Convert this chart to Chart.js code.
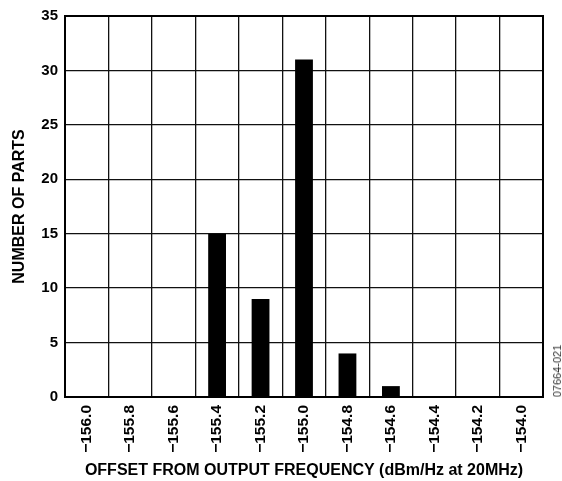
<!DOCTYPE html>
<html><head><meta charset="utf-8">
<script src="https://cdn.jsdelivr.net/npm/chart.js@4/dist/chart.umd.min.js"></script>
<style>
html,body{margin:0;padding:0;background:#fff;}
#wrap{position:relative;width:562px;height:481px;}
#code{position:absolute;left:557px;top:371px;transform:translate(-50%,-50%) rotate(-90deg);font:11px "Liberation Sans",Arial,sans-serif;color:#333;white-space:nowrap;}
</style></head>
<body><div id="wrap"><canvas id="c" width="562" height="481"></canvas><div id="code">07664-021</div></div>
<script>
const categories = ["\u2212156.0","\u2212155.8","\u2212155.6","\u2212155.4","\u2212155.2","\u2212155.0","\u2212154.8","\u2212154.6","\u2212154.4","\u2212154.2","\u2212154.0"];
const parts = [0,0,0,15,9,31,4,1,0,0,0];
const yTicks = [0,5,10,15,20,25,30,35];

const FONT = '"Liberation Sans", Arial, sans-serif';
new Chart(document.getElementById('c'), {
  type: 'bar',
  data: { labels: categories, datasets: [{ data: parts, backgroundColor: '#000', borderWidth: 0, barPercentage: 0.41, categoryPercentage: 1.0 }] },
  options: {
    responsive: false, animation: false,
    layout: { padding: { left: 0, right: 19, top: 15, bottom: 0 } },
    plugins: { legend: { display: false }, tooltip: { enabled: false } },
    scales: {
      x: {
        grid: { color: '#111', lineWidth: 1.3, drawTicks: false, offset: true },
        border: { color: '#000', width: 2 },
        ticks: { minRotation: 90, maxRotation: 90, padding: 8, color: '#000', font: { family: FONT, size: 15.5, weight: 'bold' } },
        title: { display: true, text: 'OFFSET FROM OUTPUT FREQUENCY (dBm/Hz at 20MHz)', color: '#000', font: { family: FONT, size: 16, weight: 'bold' }, padding: { top: 8, bottom: 1 } },
        afterFit: s => { s.height = 84; }
      },
      y: {
        min: 0, max: 35,
        grid: { color: '#111', lineWidth: 1.3, drawTicks: false },
        border: { color: '#000', width: 2 },
        afterBuildTicks: s => { s.ticks = yTicks.map(v => ({ value: v })); },
        ticks: { padding: 7, color: '#000', font: { family: FONT, size: 15, weight: 'bold' } },
        title: { display: true, text: 'NUMBER OF PARTS', color: '#000', font: { family: FONT, size: 16, weight: 'bold' }, padding: { top: 9.5, bottom: 9.5 } },
        afterFit: s => { s.width = 65; }
      }
    }
  },
  plugins: [{
    id: 'frame',
    afterDraw(chart) {
      const { ctx, chartArea: a } = chart;
      ctx.save(); ctx.strokeStyle = '#000'; ctx.lineWidth = 2;
      ctx.strokeRect(a.left, a.top, a.right - a.left, a.bottom - a.top);
      ctx.restore();
    }
  }]
});
</script></body></html>
